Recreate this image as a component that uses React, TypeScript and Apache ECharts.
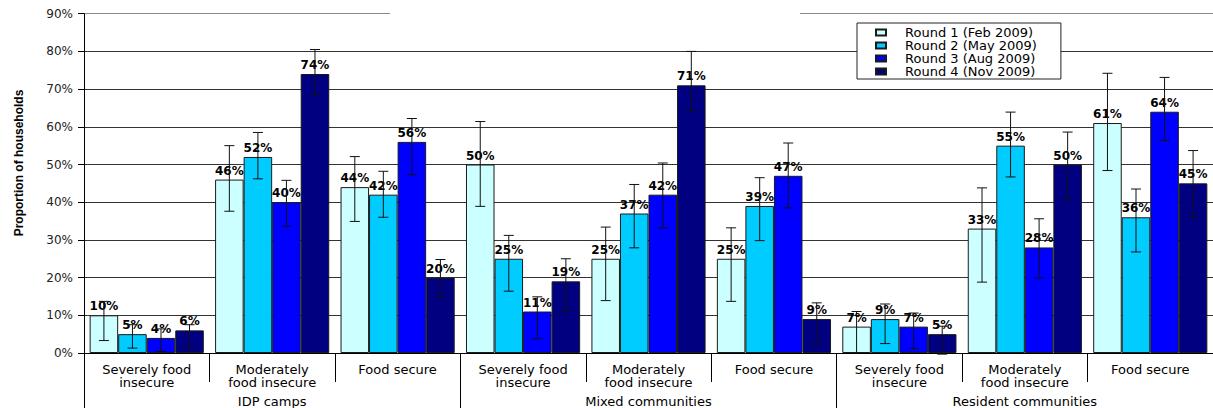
import React, { useEffect, useRef } from "react";
import * as echarts from "echarts";

// Sub-categories (repeated for each settlement type) and the settlement groups
const categories = [
  "Severely food\ninsecure", "Moderately\nfood insecure", "Food secure",
  "Severely food\ninsecure", "Moderately\nfood insecure", "Food secure",
  "Severely food\ninsecure", "Moderately\nfood insecure", "Food secure",
];
const groups = ["IDP camps", "Mixed communities", "Resident communities"];

const roundNames = [
  "Round 1 (Feb 2009)",
  "Round 2 (May 2009)",
  "Round 3 (Aug 2009)",
  "Round 4 (Nov 2009)",
];
const roundColors = ["#CCFFFF", "#00CCFF", "#0000FF", "#000080"];

// Proportion of households (%)
const round1 = [10, 46, 44, 50, 25, 25, 7, 33, 61];
const round2 = [5, 52, 42, 25, 37, 39, 9, 55, 36];
const round3 = [4, 40, 56, 11, 42, 47, 7, 28, 64];
const round4 = [6, 74, 20, 19, 71, 9, 5, 50, 45];

// Confidence interval bounds (%)
const round1Low = [3.3, 37.6, 34.9, 38.9, 13.9, 13.7, 0, 18.8, 48.4];
const round1High = [13.7, 55.0, 52.1, 61.4, 33.4, 33.2, 11.0, 43.8, 74.2];
const round2Low = [1.3, 46.2, 36.0, 16.4, 27.9, 29.8, 2.5, 46.7, 26.8];
const round2High = [7.5, 58.5, 48.2, 31.2, 44.7, 46.5, 13.0, 63.9, 43.5];
const round3Low = [0.4, 33.6, 47.3, 3.8, 33.2, 38.5, 1.2, 19.9, 56.4];
const round3High = [6.4, 45.8, 62.2, 14.9, 50.4, 55.7, 10.6, 35.6, 73.1];
const round4Low = [1.3, 68.6, 14.8, 11.2, 64.1, 2.8, -0.3, 40.9, 36.1];
const round4High = [7.5, 80.5, 24.8, 25.0, 80.0, 13.3, 7.1, 58.6, 53.7];

const yTicks = [0, 10, 20, 30, 40, 50, 60, 70, 80, 90];

const BAR_FILL = 0.91; // share of each category occupied by the 4 bars

export default function App() {
  const ref = useRef<HTMLDivElement>(null);

  useEffect(() => {
    if (!ref.current) return;
    const chart = echarts.init(ref.current, null, { renderer: "svg" });

    const values = [round1, round2, round3, round4];
    const lows = [round1Low, round2Low, round3Low, round4Low];
    const highs = [round1High, round2High, round3High, round4High];

    const errData: number[][] = [];
    lows.forEach((lo, r) => {
      lo.forEach((v, c) => errData.push([c, r, v, highs[r][c]]));
    });

    const barSeries = values.map((vals, r) => ({
      name: roundNames[r],
      type: "bar",
      xAxisIndex: 0,
      data: vals,
      barGap: "0%",
      barCategoryGap: `${Math.round((1 - BAR_FILL) * 100)}%`,
      itemStyle: { color: roundColors[r], borderColor: "#1a1a1a", borderWidth: 1 },
      label: {
        show: true,
        position: "top",
        distance: 3,
        formatter: (p: any) => `${p.value}%`,
        fontFamily: "DejaVu Sans",
        fontWeight: "bold",
        fontSize: 12,
        color: "#000",
      },
    }));

    const gridColors = yTicks.map((t, i) => (i === yTicks.length - 1 ? "#8a8a8a" : "#333333"));

    chart.setOption({
      animation: false,
      backgroundColor: "#ffffff",
      grid: { left: 84, right: -5, top: 13.7, bottom: 54.7 },
      legend: {
        data: roundNames,
        orient: "vertical",
        left: 857,
        top: 23,
        itemWidth: 10,
        itemHeight: 6,
        itemGap: 0,
        icon: "rect",
        backgroundColor: "#ffffff",
        borderColor: "#222",
        borderWidth: 1,
        padding: [3, 24, 1, 18],
        textStyle: {
          fontFamily: "DejaVu Sans",
          fontSize: 13,
          lineHeight: 12,
          color: "#000",
          padding: [0, 0, 0, 14],
        },
      },
      xAxis: [
        {
          type: "category",
          data: categories,
          position: "bottom",
          boundaryGap: true,
          axisLine: { show: true, lineStyle: { color: "#000", width: 1 } },
          axisTick: { show: true, interval: 0, length: 29, lineStyle: { color: "#000" } },
          axisLabel: {
            interval: 0,
            margin: 10,
            fontFamily: "DejaVu Sans",
            fontSize: 13,
            lineHeight: 13,
            color: "#000",
          },
        },
        {
          type: "category",
          data: groups,
          position: "bottom",
          boundaryGap: true,
          axisLine: { show: false },
          axisTick: { show: true, interval: 0, length: 60, lineStyle: { color: "#000" } },
          axisLabel: {
            interval: 0,
            margin: 42,
            fontFamily: "DejaVu Sans",
            fontSize: 13,
            lineHeight: 13,
            color: "#000",
          },
        },
      ],
      yAxis: {
        type: "value",
        min: 0,
        max: 90,
        interval: 10,
        axisLine: { show: true, lineStyle: { color: "#000", width: 1 } },
        axisTick: { show: true, length: 6, lineStyle: { color: "#000" } },
        axisLabel: {
          formatter: "{value}%",
          margin: 11,
          fontFamily: "DejaVu Sans",
          fontSize: 12,
          color: "#222",
        },
        splitLine: { show: true, lineStyle: { color: gridColors, width: 1 } },
      },
      series: [
        ...barSeries,
        {
          type: "custom",
          name: "CI",
          xAxisIndex: 0,
          z: 5,
          clip: false,
          data: errData,
          encode: { x: 0, y: [2, 3] },
          renderItem: (params: any, api: any) => {
            const cat = api.value(0);
            const r = api.value(1);
            const band = api.size([1, 0])[0];
            const bw = (band * BAR_FILL) / 4;
            const x = api.coord([cat, 0])[0] + (r - 1.5) * bw;
            const yLo = api.coord([cat, api.value(2)])[1];
            const yHi = api.coord([cat, api.value(3)])[1];
            const cap = 5;
            const style = { stroke: "#111", lineWidth: 1 };
            return {
              type: "group",
              children: [
                { type: "line", shape: { x1: x, y1: yLo, x2: x, y2: yHi }, style },
                { type: "line", shape: { x1: x - cap, y1: yHi, x2: x + cap, y2: yHi }, style },
                { type: "line", shape: { x1: x - cap, y1: yLo, x2: x + cap, y2: yLo }, style },
              ],
            };
          },
        },
      ],
      graphic: [
        {
          type: "rect",
          z: 100,
          shape: { x: 390, y: 10, width: 410, height: 7 },
          style: { fill: "#ffffff" },
        },
        {
          type: "text",
          x: 19,
          y: 163,
          rotation: Math.PI / 2,
          style: {
            text: "Proportion of households",
            fontFamily: "Liberation Sans",
            fontWeight: "bold",
            fontSize: 12,
            fill: "#000",
            align: "center",
            verticalAlign: "middle",
          },
        },
      ],
    });

    return () => chart.dispose();
  }, []);

  return (
    <div
      ref={ref}
      style={{ position: "fixed", left: 0, top: 0, width: 1213, height: 408 }}
    />
  );
}
